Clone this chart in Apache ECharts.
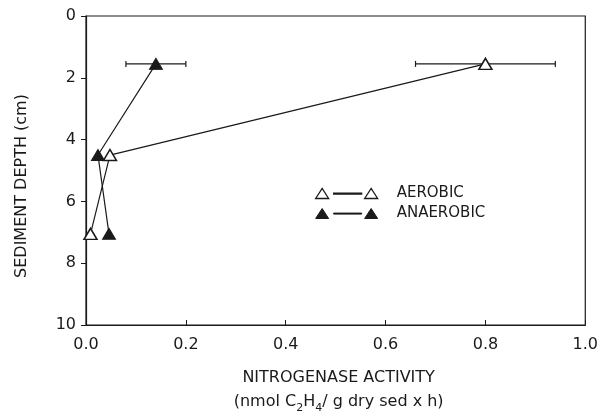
<!DOCTYPE html>
<html>
<head>
<meta charset="utf-8">
<script src="https://cdn.jsdelivr.net/npm/echarts@6/dist/echarts.min.js"></script>
<style>html,body{margin:0;padding:0;background:#fff}#c{width:601px;height:419px}</style>
</head>
<body>
<div id="c"></div>
<script>
// depth (cm) and activity values
var depths = [1.55, 4.5, 7.05];
var aerobic = [0.80, 0.048, 0.009];
var aerobicErr = [0.14, 0, 0];
var anaerobic = [0.14, 0.024, 0.046];
var anaerobicErr = [0.06, 0, 0];
var xTicks = [0, 0.2, 0.4, 0.6, 0.8, 1.0];
var yTicks = [0, 2, 4, 6, 8, 10];

var FONT = 'DejaVu Sans';
var INK = '#1a1a1a';

function pairs(xs) { return xs.map(function (v, i) { return [v, depths[i]]; }); }
function errData(xs, es) {
  var out = [];
  xs.forEach(function (v, i) { if (es[i] > 0) out.push([depths[i], v - es[i], v + es[i]]); });
  return out;
}
function errItem(params, api) {
  var y = api.value(0), lo = api.value(1), hi = api.value(2);
  var p1 = api.coord([lo, y]), p2 = api.coord([hi, y]);
  var cap = 3;
  var st = { stroke: INK, lineWidth: 1.2 };
  return {
    type: 'group',
    children: [
      { type: 'line', shape: { x1: p1[0], y1: p1[1], x2: p2[0], y2: p2[1] }, style: st },
      { type: 'line', shape: { x1: p1[0], y1: p1[1] - cap, x2: p1[0], y2: p1[1] + cap }, style: st },
      { type: 'line', shape: { x1: p2[0], y1: p2[1] - cap, x2: p2[0], y2: p2[1] + cap }, style: st }
    ]
  };
}

var tri = 'path://M0,10 L6.5,0 L13,10 Z';
var legendIcon = 'path://M0,10 L6.5,0 L13,10 Z M18,4.6 L46,4.6 L46,5.6 L18,5.6 Z M49,10 L55.5,0 L62,10 Z';

var chart = echarts.init(document.getElementById('c'), null, { renderer: 'canvas' });
chart.setOption({
  animation: false,
  backgroundColor: '#fff',
  textStyle: { fontFamily: FONT, color: INK },
  grid: { left: 86, right: 14, top: 16, bottom: 90, show: true, borderColor: INK, borderWidth: 1.2 },
  legend: {
    orient: 'vertical',
    left: 310,
    top: 181,
    itemWidth: 62,
    itemHeight: 10,
    itemGap: 5,
    selectedMode: false,
    textStyle: { fontFamily: FONT, fontSize: 15, color: INK, padding: [0, 0, 0, 14] },
    data: [
      { name: 'AEROBIC', icon: legendIcon, itemStyle: { color: '#fff', borderColor: INK, borderWidth: 1.3 } },
      { name: 'ANAEROBIC', icon: legendIcon, itemStyle: { color: INK, borderColor: INK, borderWidth: 1 } }
    ]
  },
  xAxis: {
    type: 'value', min: 0, max: 1, interval: 0.2,
    axisLine: { onZero: false, lineStyle: { color: INK, width: 1.2 } },
    axisTick: { inside: true, length: 5, lineStyle: { color: INK } },
    splitLine: { show: false },
    axisLabel: { fontFamily: FONT, fontSize: 16, color: INK, margin: 12, formatter: function (v) { return v.toFixed(1); } },
    name: 'NITROGENASE ACTIVITY\n(nmol C{s|2}H{s|4}/ g dry sed x h)',
    nameLocation: 'middle',
    nameGap: 41,
    nameTextStyle: {
      fontFamily: FONT, fontSize: 16, color: INK, lineHeight: 24, padding: [0, 0, 0, 6],
      rich: { s: { fontFamily: FONT, fontSize: 11, color: INK, verticalAlign: 'bottom', padding: [9, 0, 0, 0], lineHeight: 24 } }
    }
  },
  yAxis: {
    type: 'value', inverse: true, min: 0, max: 10, interval: 2,
    axisLine: { onZero: false, lineStyle: { color: INK, width: 1.2 } },
    axisTick: { inside: false, length: 5, lineStyle: { color: INK } },
    splitLine: { show: false },
    axisLabel: { fontFamily: FONT, fontSize: 16, color: INK, margin: 10 },
    name: 'SEDIMENT DEPTH (cm)',
    nameLocation: 'middle',
    nameGap: 56,
    nameRotate: 90,
    nameTextStyle: { fontFamily: FONT, fontSize: 16, color: INK, padding: [0, 31, 0, 0] }
  },
  series: [
    { type: 'custom', renderItem: errItem, data: errData(aerobic, aerobicErr), z: 1, silent: true },
    { type: 'custom', renderItem: errItem, data: errData(anaerobic, anaerobicErr), z: 1, silent: true },
    {
      name: 'AEROBIC', type: 'line', data: pairs(aerobic), symbol: tri, symbolSize: [13, 11],
      lineStyle: { color: INK, width: 1.2 },
      itemStyle: { color: '#fff', borderColor: INK, borderWidth: 1.5 }, z: 3
    },
    {
      name: 'ANAEROBIC', type: 'line', data: pairs(anaerobic), symbol: tri, symbolSize: [13, 11],
      lineStyle: { color: INK, width: 1.2 },
      itemStyle: { color: INK, borderColor: INK, borderWidth: 1 }, z: 2
    }
  ]
});
</script>
</body>
</html>
